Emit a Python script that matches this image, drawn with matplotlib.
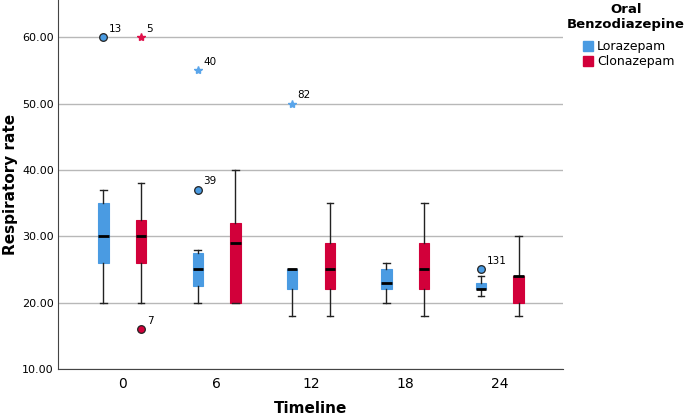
import matplotlib.pyplot as plt
from matplotlib.patches import Patch

timeline = ['0', '6', '12', '18', '24']
drugs = ['Lorazepam', 'Clonazepam']
colors = ['#4A9BE2', '#D2003A']
star_colors = ['#5AA5EA', '#E0104A']

# box stats: whislo, q1, med, q3, whishi
loraz = [(20, 26, 30, 35, 37), (20, 22.5, 25, 27.5, 28), (18, 22, 25, 25, 25),
         (20, 22, 23, 25, 26), (21, 22, 22, 23, 24)]
clonaz = [(20, 26, 30, 32.5, 38), (20, 20, 29, 32, 40), (18, 22, 25, 29, 35),
          (18, 22, 25, 29, 35), (18, 20, 24, 24, 30)]

# outliers: (group, drug, value, case id, kind)
outliers = [(0, 0, 60, '13', 'o'), (0, 1, 60, '5', '*'), (0, 1, 16, '7', 'o'),
            (1, 0, 37, '39', 'o'), (1, 0, 55, '40', '*'), (2, 0, 50, '82', '*'),
            (4, 0, 25, '131', 'o')]

fig = plt.figure(figsize=(6.85, 4.16), dpi=100)
ax = fig.add_axes([58 / 685, 47 / 416, 505 / 685, 369 / 416])

offs = [-0.2, 0.2]
for d, stats in enumerate([loraz, clonaz]):
    bx = []
    for lo, q1, med, q3, hi in stats:
        bx.append({'whislo': lo, 'q1': q1, 'med': med, 'q3': q3, 'whishi': hi, 'fliers': []})
    pos = [i + offs[d] for i in range(len(timeline))]
    ax.bxp(bx, positions=pos, widths=0.11, patch_artist=True, showfliers=False,
           boxprops=dict(facecolor=colors[d], edgecolor=colors[d], linewidth=0.8),
           medianprops=dict(color='black', linewidth=2),
           whiskerprops=dict(color='#222222', linewidth=1),
           capprops=dict(color='#222222', linewidth=1),
           capwidths=0.07, zorder=3)

for g, d, v, lab, kind in outliers:
    x = g + offs[d]
    if kind == 'o':
        ax.plot(x, v, 'o', ms=5.5, mfc=colors[d], mec='#222222', mew=0.9, zorder=4)
    else:
        ax.plot(x, v, '*', ms=6, color=star_colors[d], zorder=4)
    ax.annotate(lab, (x, v), xytext=(4, 4), textcoords='offset points', fontsize=7.5)

ax.set_xlim(-0.68, 4.67)
ax.set_ylim(10, 65.6)
ax.set_xticks(range(len(timeline)))
ax.set_xticklabels(timeline, fontsize=10)
ax.set_yticks([10, 20, 30, 40, 50, 60])
ax.set_yticklabels(['%.2f' % t for t in [10, 20, 30, 40, 50, 60]], fontsize=8)
ax.tick_params(axis='x', length=0, pad=6)
ax.tick_params(axis='y', length=0, pad=3)
ax.yaxis.grid(True, color='#b8b8b8', linewidth=1)
ax.set_axisbelow(True)
for s in ['top', 'right']:
    ax.spines[s].set_visible(False)
for s in ['left', 'bottom']:
    ax.spines[s].set_color('#444444')
ax.set_xlabel('Timeline', fontsize=11, fontweight='bold', labelpad=7)
ax.set_ylabel('Respiratory rate', fontsize=11, fontweight='bold', labelpad=3)

fig.text(626 / 685, 1 - 3 / 416, 'Oral\nBenzodiazepine', ha='center', va='top',
         fontsize=9.5, fontweight='bold', linespacing=1.2)
handles = [Patch(color=colors[i], label=drugs[i]) for i in range(2)]
fig.legend(handles=handles, loc='upper left', bbox_to_anchor=(583 / 685, 1 - 40 / 416),
           frameon=False, fontsize=9, handlelength=0.8, handleheight=0.9,
           handletextpad=0.3, labelspacing=0.2, borderaxespad=0, borderpad=0)

fig.savefig('out.png', dpi=100)
